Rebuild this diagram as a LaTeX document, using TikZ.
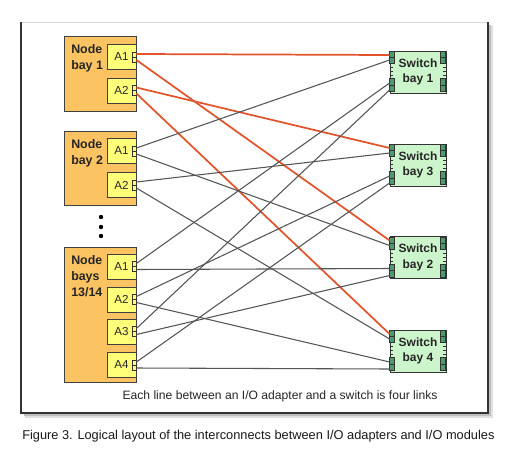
\documentclass[tikz,border=0pt]{standalone}
\usepackage{fontspec}
\setmainfont{Liberation Sans}
\usetikzlibrary{calc}
\definecolor{baybg}{HTML}{FBC362}
\definecolor{adapterbg}{HTML}{FFFF7A}
\definecolor{switchbg}{HTML}{CCF5CC}
\definecolor{portgreen}{HTML}{4E9A6C}
\definecolor{linkred}{HTML}{E2542C}
\definecolor{linkgray}{HTML}{555555}
\definecolor{framegray}{HTML}{333333}

\begin{document}
\begin{tikzpicture}[x=0.75pt,y=-0.75pt,
    bay/.style={draw=black!75, fill=baybg, line width=0.6pt, minimum width=54pt,
                inner sep=0pt, anchor=north west},
    baytext/.style={font=\fontsize{9.3}{12}\selectfont\bfseries, text=black!85,
                    align=left, inner sep=0pt, anchor=north west},
    adapter/.style={draw=black!75, fill=adapterbg, line width=0.6pt,
                    minimum width=21.75pt, minimum height=18.75pt, inner sep=0pt,
                    font=\fontsize{8.7}{10}\selectfont, text=black!85},
    port/.style={draw=black!80, fill=adapterbg, line width=0.5pt,
                 minimum width=3pt, minimum height=7.5pt, inner sep=0pt, anchor=east,
                 path picture={\draw[black!80, line width=0.5pt]
                   (path picture bounding box.west) -- (path picture bounding box.east);}},
    switch/.style={draw=black!80, fill=switchbg, line width=0.6pt,
                   minimum width=42pt, minimum height=31.5pt, inner sep=0pt,
                   align=center, font=\fontsize{9}{11.5}\selectfont\bfseries, text=black!85},
    swport/.style={draw=black!80, fill=portgreen, line width=0.4pt},
    redlink/.style={linkred, line width=1.3pt},
    graylink/.style={linkgray, line width=0.8pt},
  ]
\useasboundingbox (0,0) rectangle (525,458);

% frame with shadow
\fill[black!12] (25,26) rectangle (493,418);
\fill[black!25] (24,25) rectangle (491,416);
\fill[white] (21,22) rectangle (488,413);
\draw[black!15, line width=0.6pt] (21,22) -- (488,22);
\draw[framegray, line width=0.8pt] (21,22) -- (21,413) -- (488,413) -- (488,22);

% node bays
\node[bay, minimum height=56.25pt] (nb1) at (64,36) {};
\node[bay, minimum height=55.5pt] (nb2) at (64,131) {};
\node[bay, minimum height=101.25pt] (nb13) at (64,247) {};

\node[baytext] (nb1txt) at (71,44) {Node\\bay 1};
\node[baytext] (nb2txt) at (71,139) {Node\\bay 2};
\node[baytext] (nb13txt) at (71,255) {Node\\bays\\13/14};

\foreach \y in {217,227,236}
  \fill[black] (101,\y) circle (2.2);

% I/O adapters
\node[adapter] (n1a1) at (121.5,57) {A1};
\node[adapter] (n1a2) at (121.5,90.5) {A2};
\node[adapter] (n2a1) at (121.5,151) {A1};
\node[adapter] (n2a2) at (121.5,185) {A2};
\node[adapter] (n13a1) at (121.5,266.5) {A1};
\node[adapter] (n13a2) at (121.5,299.5) {A2};
\node[adapter] (n13a3) at (121.5,331.5) {A3};
\node[adapter] (n13a4) at (121.5,365) {A4};

\foreach \a in {1a1,1a2,2a1,2a2,13a1,13a2,13a3,13a4}
  \node[port] (p\a) at (n\a.east) {};

% switches
\node[switch] (sw1) at (418,72) {Switch\\bay 1};
\node[switch] (sw3) at (418,165) {Switch\\bay 3};
\node[switch] (sw2) at (418,257.5) {Switch\\bay 2};
\node[switch] (sw4) at (418,351) {Switch\\bay 4};

\foreach \s in {sw1,sw2,sw3,sw4} {
  \foreach \dx in {0,51} {
    \draw[swport] ($(\s.north west)+(\dx,1)$) rectangle ($(\s.north west)+(\dx+5,7)$);
    \draw[swport] ($(\s.north west)+(\dx,7)$) rectangle ($(\s.north west)+(\dx+5,13)$);
    \draw[swport] ($(\s.north west)+(\dx,28)$) rectangle ($(\s.north west)+(\dx+5,34.5)$);
    \draw[swport] ($(\s.north west)+(\dx,34.5)$) rectangle ($(\s.north west)+(\dx+5,41)$);
  }
  \foreach \dy in {17,21,25} {
    \draw[black!80, line width=0.5pt] ($(\s.north west)+(0,\dy)$) -- ++(3,0);
    \draw[black!80, line width=0.5pt] ($(\s.north east)+(0,\dy)$) -- ++(-3,0);
  }
}

% links from node bay 1
\foreach \p/\po/\s/\so in {p1a1/-3/sw1/-17, p1a1/3/sw2/-17,
                             p1a2/-3/sw3/-17, p1a2/3/sw4/-17}
  \draw[redlink] ($(\p.east)+(0,\po)$) -- ($(\s.west)+(0,\so)$);

% links from node bay 2 and node bays 13/14
\foreach \p/\po/\s/\so in {p2a1/-3/sw1/-12, p2a1/3/sw2/-12,
                             p2a2/-3/sw3/-12, p2a2/3/sw4/-12,
                             p13a1/-3/sw1/11, p13a1/3/sw2/11,
                             p13a2/-3/sw3/11, p13a2/3/sw4/11,
                             p13a3/-3/sw1/18, p13a3/3/sw2/18,
                             p13a4/-3/sw3/18, p13a4/3/sw4/18}
  \draw[graylink] ($(\p.east)+(0,\po)$) -- ($(\s.west)+(0,\so)$);

% notes
\node[font=\fontsize{9.1}{11}\selectfont, text=black!85, inner sep=0pt] (note)
  at (280,396) {Each line between an I/O adapter and a switch is four links};
\node[font=\fontsize{9.6}{11.5}\selectfont, text=black!90, inner sep=0pt, anchor=west] (caption)
  at (22,436) {Figure 3. Logical layout of the interconnects between I/O adapters and I/O modules};

\end{tikzpicture}
\end{document}
